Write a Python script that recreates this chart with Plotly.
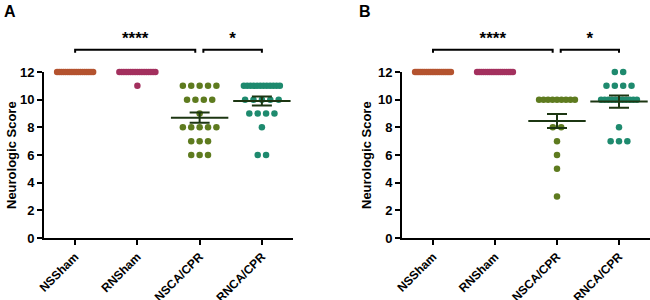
import plotly.graph_objects as go

# ---------------- data ----------------
categories = ["NSSham", "RNSham", "NSCA/CPR", "RNCA/CPR"]
colors = ["#B4532F", "#A3305E", "#5E7B1F", "#1E8A6E"]
mean_color = "#1C3612"

# panel A scores
a_nssham = [12] * 18
a_rnsham = [12] * 17 + [11]
a_nscacpr = [11] * 5 + [10] * 4 + [9] + [8] * 5 + [7] * 3 + [6] * 3
a_rncacpr = [11] * 12 + [10] * 5 + [9] * 4 + [8] + [6] * 2
# panel B scores
b_nssham = [12] * 20
b_rnsham = [12] * 18
b_nscacpr = [10] * 9 + [8] * 2 + [7, 6, 5, 3]
b_rncacpr = [12] * 2 + [11] * 4 + [10] * 11 + [8] + [7] * 3

# mean +/- SEM (CA/CPR groups only)
a_means = [8.70, 9.90]
a_sems = [0.37, 0.33]
b_means = [8.46, 9.86]
b_sems = [0.50, 0.45]

sig_labels = ["****", "*"]
yticks = [0, 2, 4, 6, 8, 10, 12]

FONT = "Liberation Sans, Arial, sans-serif"

W, H = 650, 300
PX_PER_CAT = 62.3


def spread(vals, ci):
    xs, ys = [], []
    groups = {}
    for v in vals:
        groups[v] = groups.get(v, 0) + 1
    step = 8.4 / PX_PER_CAT
    maxw = 36 / PX_PER_CAT
    for v, k in groups.items():
        s = step if k == 1 else min(step, maxw / (k - 1))
        for i in range(k):
            xs.append(ci + (i - (k - 1) / 2) * s)
            ys.append(v)
    return xs, ys


fig = go.Figure()

panels = [
    ("x", "y", "y3", [a_nssham, a_rnsham, a_nscacpr, a_rncacpr], a_means, a_sems),
    ("x2", "y2", "y4", [b_nssham, b_rnsham, b_nscacpr, b_rncacpr], b_means, b_sems),
]

for xa, ya, yb, groups, means, sems in panels:
    for ci, vals in enumerate(groups):
        xs, ys = spread(vals, ci)
        fig.add_trace(go.Scatter(
            x=xs, y=ys, mode="markers", xaxis=xa, yaxis=ya,
            marker=dict(size=6.5, color=colors[ci], line=dict(width=0)),
            showlegend=False, cliponaxis=False, hoverinfo="skip"))
    # mean +/- SEM for CA/CPR groups
    fig.add_trace(go.Scatter(
        x=[2, 3], y=means, mode="markers", xaxis=xa, yaxis=ya,
        marker=dict(symbol="line-ew", size=41, line=dict(width=2, color=mean_color)),
        error_y=dict(type="data", array=sems, visible=True, color=mean_color,
                     thickness=2, width=10),
        showlegend=False, cliponaxis=False, hoverinfo="skip"))
    # significance brackets
    brackets = [(0, 1.93), (2.06, 3)]
    for (x0, x1), lab in zip(brackets, sig_labels):
        fig.add_trace(go.Scatter(
            x=[x0, x0, x1, x1], y=[13.4, 13.6, 13.6, 13.4], mode="lines",
            xaxis=xa, yaxis=yb, line=dict(color="black", width=2),
            showlegend=False, hoverinfo="skip"))
        fig.add_trace(go.Scatter(
            x=[(x0 + x1) / 2], y=[14.3], mode="text", text=["<b>%s</b>" % lab],
            xaxis=xa, yaxis=yb, textfont=dict(family=FONT, size=17, color="black"),
            showlegend=False, cliponaxis=False, hoverinfo="skip"))

y_dom = [(H - 238) / H, (H - 72) / H]
yb_dom = [(H - 72) / H, (H - 20) / H]
yb_range = [12, 12 + 52 / 13.83]

axis_common = dict(
    showgrid=False, zeroline=False, showline=True, linecolor="black", linewidth=2,
    ticks="outside", ticklen=5, tickwidth=2, tickcolor="black", automargin=False,
)
xaxis_common = dict(
    axis_common, range=[-0.5, 3.5], tickvals=[0, 1, 2, 3],
    ticktext=["<b>%s</b>" % c for c in categories],
    tickangle=-45, tickfont=dict(family=FONT, size=12, color="black"),
)
yaxis_common = dict(
    axis_common, range=[0, 12], tickvals=yticks,
    ticktext=["<b>%d</b>" % t for t in yticks],
    tickfont=dict(family=FONT, size=13, color="black"),
)

fig.update_layout(
    template="none",
    width=W, height=H, margin=dict(l=0, r=0, t=0, b=0, pad=0), autosize=False,
    plot_bgcolor="white", paper_bgcolor="white",
    font=dict(family=FONT, color="black"),
    xaxis=dict(xaxis_common, domain=[44 / W, 293 / W], anchor="y"),
    yaxis=dict(yaxis_common, domain=y_dom, anchor="x"),
    xaxis2=dict(xaxis_common, domain=[402 / W, 1.0], anchor="y2"),
    yaxis2=dict(yaxis_common, domain=y_dom, anchor="x2"),
    yaxis3=dict(domain=yb_dom, range=yb_range, visible=False, anchor="x"),
    yaxis4=dict(domain=yb_dom, range=yb_range, visible=False, anchor="x2"),
    annotations=[
        dict(text="<b>A</b>", x=2 / W, y=1 - 1 / H, xref="paper", yref="paper",
             xanchor="left", yanchor="top", showarrow=False,
             font=dict(family=FONT, size=16, color="black")),
        dict(text="<b>B</b>", x=357 / W, y=1 - 1 / H, xref="paper", yref="paper",
             xanchor="left", yanchor="top", showarrow=False,
             font=dict(family=FONT, size=16, color="black")),
        dict(text="<b>Neurologic Score</b>", x=12 / W, y=(H - 155) / H,
             xref="paper", yref="paper", textangle=-90, showarrow=False,
             xanchor="center", yanchor="middle",
             font=dict(family=FONT, size=13, color="black")),
        dict(text="<b>Neurologic Score</b>", x=367 / W, y=(H - 155) / H,
             xref="paper", yref="paper", textangle=-90, showarrow=False,
             xanchor="center", yanchor="middle",
             font=dict(family=FONT, size=13, color="black")),
    ],
)

fig.write_html("out.html", config={"displayModeBar": False},
               post_script="document.body.style.margin='0px';document.body.style.padding='0px';")
